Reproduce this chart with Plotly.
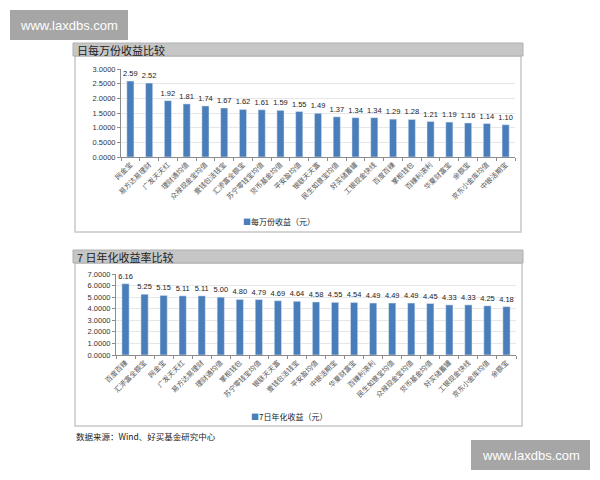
import plotly.graph_objects as go

cats1 = ["网金宝", "易方达易理财", "广发天天红", "理财通均值", "众禄现金宝均值", "壹钱包活钱宝",
         "汇添富全额宝", "苏宁零钱宝均值", "货币基金均值", "平安盈均值", "银联天天富",
         "民生如意宝均值", "好买储蓄罐", "工银现金快线", "百度百赚", "掌柜钱包",
         "百赚利滚利", "华夏财富宝", "余额宝", "京东小金库均值", "中银活期宝"]
vals1 = [2.59, 2.52, 1.92, 1.81, 1.74, 1.67, 1.62, 1.61, 1.59, 1.55, 1.49,
         1.37, 1.34, 1.34, 1.29, 1.28, 1.21, 1.19, 1.16, 1.14, 1.10]

cats2 = ["百度百赚", "汇添富全额宝", "网金宝", "广发天天红", "易方达易理财", "理财通均值",
         "掌柜钱包", "苏宁零钱宝均值", "银联天天富", "壹钱包活钱宝", "平安盈均值",
         "中银活期宝", "华夏财富宝", "百赚利滚利", "民生如意宝均值", "众禄现金宝均值",
         "货币基金均值", "好买储蓄罐", "工银现金快线", "京东小金库均值", "余额宝"]
vals2 = [6.16, 5.25, 5.15, 5.11, 5.11, 5.00, 4.80, 4.79, 4.69, 4.64, 4.58,
         4.55, 4.54, 4.49, 4.49, 4.49, 4.45, 4.33, 4.33, 4.25, 4.18]

series1 = "每万份收益（元）"
series2 = "7日年化收益（元）"

W, H = 600, 480
FONT = "Noto Sans CJK SC"
BAR = "#4a7ebb"

def px(x):
    return x / W

def py(y):
    return 1 - y / H

fig = go.Figure()
fig.add_trace(go.Bar(x=cats1, y=vals1, name=series1, marker_color=BAR,
                     width=0.38, text=vals1, texttemplate="%{y:.2f}", textposition="outside",
                     constraintext="none",
                     textfont=dict(size=7.5, color="#222", family="Liberation Sans"), cliponaxis=False,
                     xaxis="x", yaxis="y"))
fig.add_trace(go.Bar(x=cats2, y=vals2, name=series2, marker_color=BAR,
                     width=0.38, text=vals2, texttemplate="%{y:.2f}", textposition="outside",
                     constraintext="none",
                     textfont=dict(size=7.5, color="#222", family="Liberation Sans"), cliponaxis=False,
                     xaxis="x2", yaxis="y2"))

axis_common = dict(showline=True, linecolor="#8c8c8c", linewidth=1)
ytick = dict(size=7.5, color="#333", family="Liberation Sans")
xtick = dict(size=7, color="#555", family=FONT)

fig.update_layout(
    width=W, height=H, margin=dict(l=0, r=0, t=0, b=0, autoexpand=False),
    paper_bgcolor="white", plot_bgcolor="white",
    font=dict(family=FONT), showlegend=False,
    xaxis=dict(domain=[px(121), px(515)], anchor="y", type="category", tickangle=-45,
               ticks="outside", ticklen=3, tickcolor="#8c8c8c", tickson="boundaries",
               tickfont=xtick, automargin=False, **axis_common),
    yaxis=dict(domain=[py(157), py(69)], anchor="x", range=[0, 3], dtick=0.5,
               tickformat=".4f", showgrid=True, gridcolor="#e6e6e6", zeroline=False,
               ticks="outside", ticklen=3, tickcolor="#8c8c8c", tickfont=ytick,
               automargin=False, **axis_common),
    xaxis2=dict(domain=[px(116), px(516)], anchor="y2", type="category", tickangle=-45,
                ticks="outside", ticklen=3, tickcolor="#8c8c8c", tickson="boundaries",
                tickfont=xtick, automargin=False, **axis_common),
    yaxis2=dict(domain=[py(355), py(274)], anchor="x2", range=[0, 7], dtick=1,
                tickformat=".4f", showgrid=True, gridcolor="#e6e6e6", zeroline=False,
                ticks="outside", ticklen=3, tickcolor="#8c8c8c", tickfont=ytick,
                automargin=False, **axis_common),
)

shapes = []
shapes.append(dict(type="rect", xref="paper", yref="paper", x0=px(75), x1=px(521),
                   y0=py(232), y1=py(56), line=dict(color="#c8c8c8", width=1.5), layer="below"))
shapes.append(dict(type="rect", xref="paper", yref="paper", x0=px(75), x1=px(522),
                   y0=py(426), y1=py(263), line=dict(color="#c8c8c8", width=1.5), layer="below"))
shapes.append(dict(type="rect", xref="paper", yref="paper", x0=px(73), x1=px(523),
                   y0=py(56), y1=py(43), fillcolor="#c6c6c6", line=dict(color="#b0b0b0", width=1),
                   layer="below"))
shapes.append(dict(type="rect", xref="paper", yref="paper", x0=px(73), x1=px(523),
                   y0=py(263), y1=py(250), fillcolor="#c6c6c6", line=dict(color="#b0b0b0", width=1),
                   layer="below"))
shapes.append(dict(type="rect", xref="paper", yref="paper", x0=px(10), x1=px(128),
                   y0=py(40), y1=py(10), fillcolor="#a6a6a6", line=dict(width=0)))
shapes.append(dict(type="rect", xref="paper", yref="paper", x0=px(471), x1=px(590),
                   y0=py(470), y1=py(440), fillcolor="#a6a6a6", line=dict(width=0)))
fig.update_layout(shapes=shapes)

ann = [
    dict(text="日每万份收益比较", x=px(75), y=py(49.5), xanchor="left", yanchor="middle",
         font=dict(size=11, color="#222", family=FONT)),
    dict(text="7 日年化收益率比较", x=px(75), y=py(256.5), xanchor="left", yanchor="middle",
         font=dict(size=11, color="#222", family=FONT)),
    dict(text=f"<span style='color:{BAR}'>■</span>{series1}", x=px(241), y=py(221),
         xanchor="left", yanchor="middle", font=dict(size=8, color="#222", family=FONT)),
    dict(text=f"<span style='color:{BAR}'>■</span>{series2}", x=px(249), y=py(416),
         xanchor="left", yanchor="middle", font=dict(size=8, color="#222", family=FONT)),
    dict(text="数据来源：Wind、好买基金研究中心", x=px(74), y=py(436), xanchor="left", yanchor="middle",
         font=dict(size=8.5, color="#222", family=FONT)),
    dict(text="www.laxdbs.com", x=px(69), y=py(25), xanchor="center", yanchor="middle",
         font=dict(size=13, color="white", family="Liberation Sans")),
    dict(text="www.laxdbs.com", x=px(530.5), y=py(455), xanchor="center", yanchor="middle",
         font=dict(size=13, color="white", family="Liberation Sans")),
]
for a in ann:
    a.update(xref="paper", yref="paper", showarrow=False)
fig.update_layout(annotations=ann)

fig.write_html("out.html")
